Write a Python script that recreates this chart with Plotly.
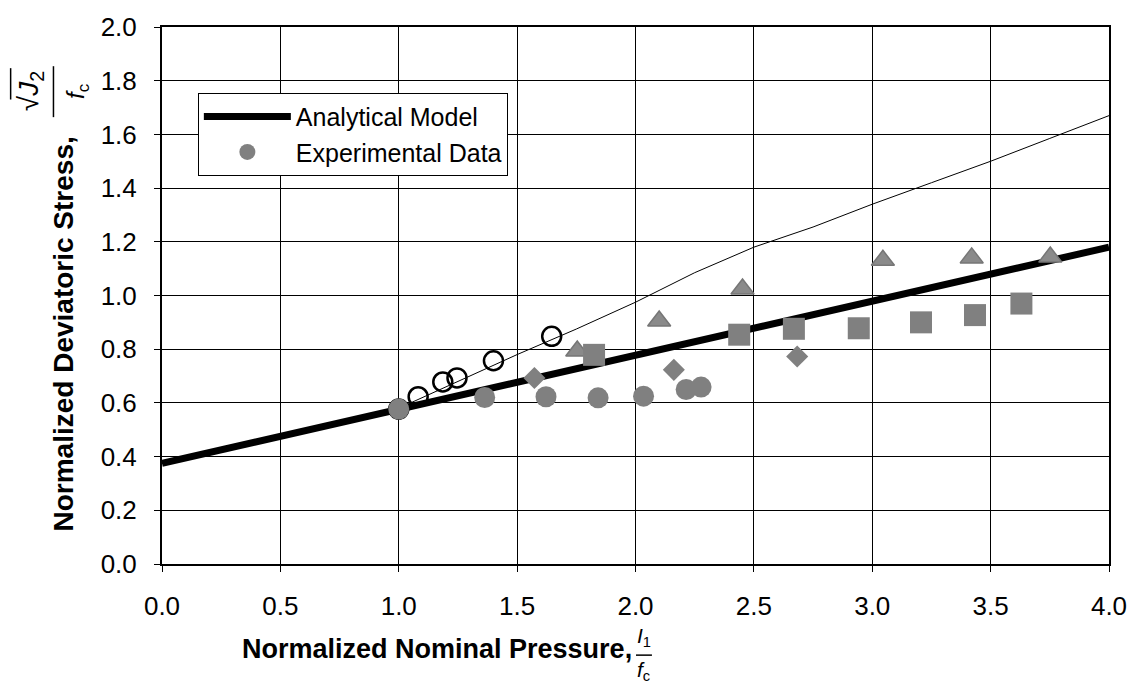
import plotly.graph_objects as go

# Analytical model: straight line in the meridian plane
model_x = [0.0, 4.0]
model_y = [0.375, 1.18]

# Thin reference curve
curve_x = [1.0, 1.25, 1.5, 1.75, 2.0, 2.25, 2.5, 2.75, 3.0, 3.25, 3.5, 3.75, 4.0]
curve_y = [0.58, 0.68, 0.78, 0.875, 0.975, 1.085, 1.18, 1.255, 1.34, 1.42, 1.50, 1.585, 1.67]

# Experimental data sets
open_x = [1.0, 1.082, 1.186, 1.246, 1.40, 1.646]
open_y = [0.577, 0.623, 0.678, 0.693, 0.757, 0.848]

circle_x = [1.0, 1.363, 1.622, 1.842, 2.034, 2.214, 2.277]
circle_y = [0.577, 0.620, 0.623, 0.619, 0.625, 0.650, 0.659]

diamond_x = [1.573, 2.162, 2.683]
diamond_y = [0.693, 0.723, 0.773]

triangle_x = [1.754, 2.10, 2.452, 3.045, 3.42, 3.752]
triangle_y = [0.793, 0.905, 1.024, 1.131, 1.140, 1.143]

square_x = [1.825, 2.438, 2.669, 2.943, 3.206, 3.434, 3.630]
square_y = [0.779, 0.854, 0.876, 0.878, 0.900, 0.927, 0.970]

x_ticks = [0.0, 0.5, 1.0, 1.5, 2.0, 2.5, 3.0, 3.5, 4.0]
y_ticks = [0.0, 0.2, 0.4, 0.6, 0.8, 1.0, 1.2, 1.4, 1.6, 1.8, 2.0]

FONT = "Liberation Sans, Arial, sans-serif"
GRAY = "#808080"

W, H = 1139, 686
L, R, T, B = 162, 26, 16, 122
PW, PH = W - L - R, H - T - B


def px(xp):
    return (xp - L) / PW


def py(yp):
    return (H - B - yp) / PH


fig = go.Figure()

fig.add_trace(go.Scatter(x=model_x, y=model_y, mode="lines", name="Analytical Model",
                         line=dict(color="black", width=7), showlegend=True))
fig.add_trace(go.Scatter(x=curve_x, y=curve_y, mode="lines", line=dict(color="black", width=1),
                         showlegend=False, hoverinfo="skip"))
fig.add_trace(go.Scatter(x=open_x, y=open_y, mode="markers", showlegend=False,
                         marker=dict(symbol="circle-open", size=19, color="black",
                                     line=dict(width=2.5, color="black"))))
fig.add_trace(go.Scatter(x=circle_x, y=circle_y, mode="markers", name="Experimental Data",
                         marker=dict(symbol="circle", size=21, color=GRAY, line=dict(width=0))))
fig.add_trace(go.Scatter(x=diamond_x, y=diamond_y, mode="markers", showlegend=False,
                         marker=dict(symbol="diamond", size=17, color=GRAY, line=dict(width=0))))
fig.add_trace(go.Scatter(x=triangle_x, y=triangle_y, mode="markers", showlegend=False,
                         marker=dict(symbol="triangle-up", size=20, color="#8a8a8a",
                                     line=dict(width=1.5, color="#767676"))))
fig.add_trace(go.Scatter(x=square_x, y=square_y, mode="markers", showlegend=False,
                         marker=dict(symbol="square", size=22, color=GRAY, line=dict(width=0))))

axis_common = dict(showgrid=True, gridcolor="black", gridwidth=1, zeroline=False,
                   showline=True, linecolor="black", linewidth=2, mirror=True,
                   ticks="outside", ticklen=6, tickcolor="black", tickwidth=1,
                   tickfont=dict(family=FONT, size=26, color="black"))

fig.update_xaxes(range=[0, 4], tickvals=x_ticks, ticktext=[f"{v:.1f}" for v in x_ticks],
                 ticklabelstandoff=12, **axis_common)
fig.update_yaxes(range=[0, 2], tickvals=y_ticks, ticktext=[f"{v:.1f}" for v in y_ticks],
                 ticklabelstandoff=12, **axis_common)

annotations = [
    # x-axis title with fraction I1 / fc
    dict(text="<b>Normalized Nominal Pressure,</b>", x=px(636), y=py(651), xanchor="right",
         yanchor="middle", font=dict(size=27)),
    dict(text="<i>I</i><sub>1</sub>", x=px(646), y=py(639), xanchor="center", yanchor="middle",
         font=dict(size=21)),
    dict(text="<i>f</i><sub>c</sub>", x=px(646), y=py(673), xanchor="center", yanchor="middle",
         font=dict(size=21)),
    # y-axis title with fraction sqrt(J2) / fc
    dict(text="<b>Normalized Deviatoric Stress,</b>", x=px(63), y=py(533), xanchor="center",
         yanchor="bottom", textangle=-90, font=dict(size=28)),
    dict(text="√<i>J</i><sub>2</sub>", x=px(30), y=py(82), xanchor="center", yanchor="middle",
         textangle=-90, font=dict(size=28)),
    dict(text="<i>f</i><sub>c</sub>", x=px(77), y=py(82), xanchor="center", yanchor="middle",
         textangle=-90, font=dict(size=24)),
]
for a in annotations:
    a.update(xref="paper", yref="paper", showarrow=False)
    a["font"] = dict(family=FONT, color="black", **a["font"])

shapes = [
    dict(type="line", xref="paper", yref="paper", x0=px(638), x1=px(654), y0=py(657), y1=py(657),
         line=dict(color="black", width=1.5)),
    dict(type="line", xref="paper", yref="paper", x0=px(53), x1=px(53), y0=py(56), y1=py(108),
         line=dict(color="black", width=1.5)),
    dict(type="line", xref="paper", yref="paper", x0=px(10), x1=px(10), y0=py(58), y1=py(90),
         line=dict(color="black", width=1.5)),
]

fig.update_layout(
    width=W, height=H,
    margin=dict(l=L, r=R, t=T, b=B),
    paper_bgcolor="white", plot_bgcolor="white",
    font=dict(family=FONT, color="black"),
    showlegend=True,
    legend=dict(x=px(198), y=py(83), xanchor="left", yanchor="top",
                bgcolor="white", bordercolor="black", borderwidth=1,
                font=dict(family=FONT, size=25, color="black"),
                itemwidth=87, tracegroupgap=0),
    annotations=annotations,
    shapes=shapes,
)

fig.write_html("out.html")
